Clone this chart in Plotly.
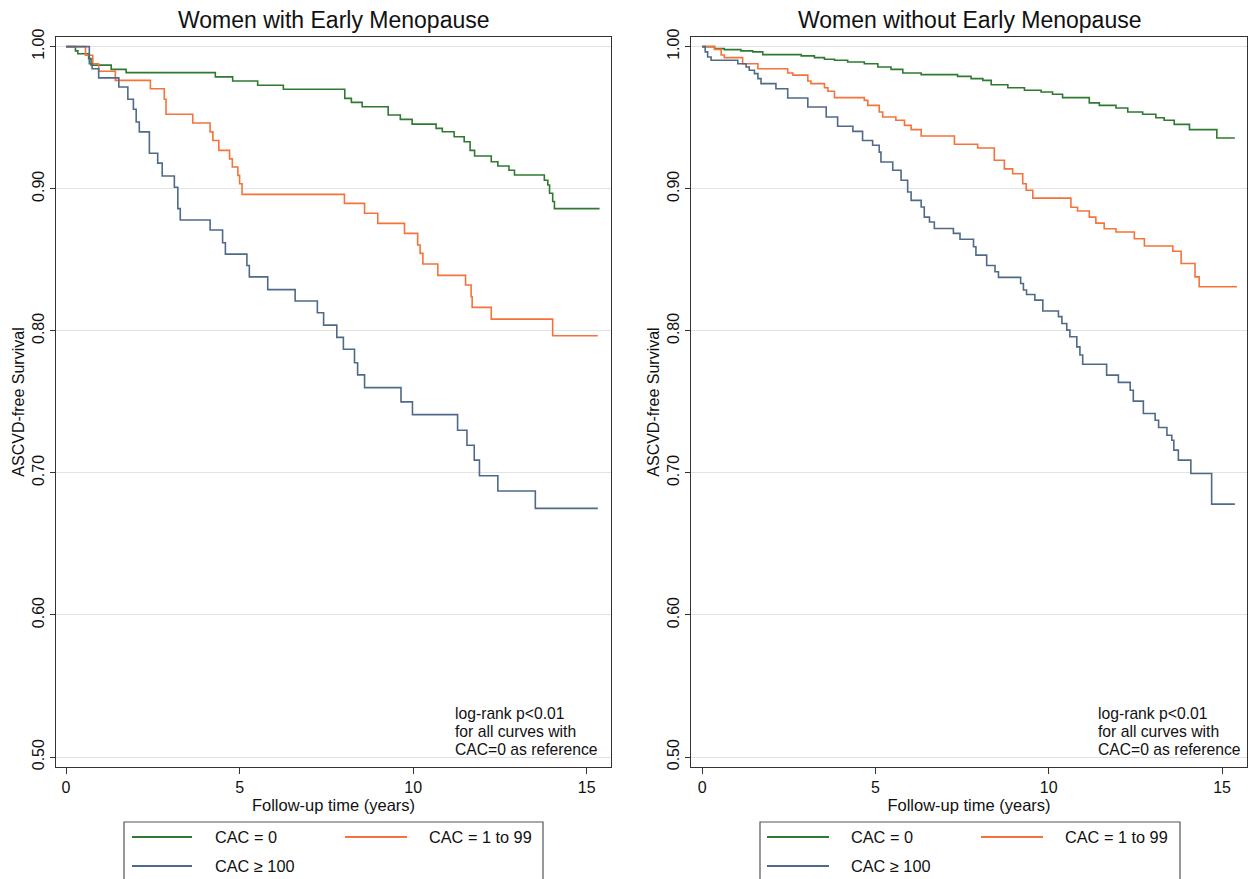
import plotly.graph_objects as go

# ---------------- data ----------------
panel_titles = ["Women with Early Menopause", "Women without Early Menopause"]
series_names = ["CAC = 0", "CAC = 1 to 99", "CAC \u2265 100"]
series_colors = ["#2f7a31", "#f5733a", "#4f6a88"]

# Left panel: women with early menopause
left_cac0_t = [0, 0.27, 0.34, 0.65, 0.72, 1.30, 1.73, 4.30, 4.80, 5.52, 6.26, 8.03, 8.22, 8.53, 9.28, 9.63,
               9.97, 10.66, 10.84, 11.18, 11.47, 11.64, 11.77, 12.25, 12.44, 12.76, 12.92, 13.78, 13.88,
               13.93, 14.02, 14.07, 15.37]
left_cac0_s = [1.0, 0.997, 0.995, 0.9916, 0.987, 0.984, 0.9817, 0.9787, 0.9758, 0.9728, 0.970, 0.9636,
               0.9608, 0.9577, 0.9519, 0.9488, 0.9455, 0.9425, 0.9401, 0.9366, 0.9331, 0.927, 0.923,
               0.919, 0.916, 0.913, 0.9097, 0.906, 0.9026, 0.8968, 0.891, 0.886, 0.886]

left_cac1_t = [0, 0.56, 0.77, 0.94, 1.42, 2.43, 2.83, 2.88, 3.65, 4.15, 4.23, 4.40, 4.71, 4.79, 4.95,
               5.00, 5.07, 8.02, 8.60, 8.98, 9.75, 10.13, 10.20, 10.28, 10.71, 11.51, 11.67, 11.70,
               12.25, 14.02, 15.32]
left_cac1_s = [1.0, 0.994, 0.988, 0.9827, 0.9763, 0.9704, 0.963, 0.9524, 0.9463, 0.940, 0.934, 0.927,
               0.921, 0.9153, 0.9094, 0.9035, 0.896, 0.8897, 0.8827, 0.8756, 0.8686, 0.8604, 0.8545,
               0.847, 0.839, 0.8322, 0.824, 0.8165, 0.8082, 0.7965, 0.7965]

left_cac100_t = [0, 0.67, 0.75, 0.94, 1.52, 1.78, 1.94, 2.02, 2.11, 2.40, 2.64, 2.77, 3.12, 3.22, 3.29,
                 4.15, 4.51, 4.59, 5.21, 5.28, 5.81, 6.60, 7.24, 7.42, 7.80, 7.99, 8.31, 8.40, 8.60,
                 9.65, 9.98, 11.28, 11.55, 11.76, 11.91, 12.44, 13.52, 15.32]
left_cac100_s = [1.0, 0.988, 0.9845, 0.978, 0.9716, 0.963, 0.956, 0.947, 0.940, 0.925, 0.918, 0.909,
                 0.901, 0.886, 0.878, 0.871, 0.862, 0.854, 0.846, 0.838, 0.829, 0.821, 0.8127, 0.804,
                 0.7954, 0.787, 0.7775, 0.769, 0.760, 0.750, 0.741, 0.730, 0.7195, 0.709, 0.698,
                 0.6873, 0.675, 0.675]

# Right panel: women without early menopause
right_cac0_t = [0, 0.36, 0.64, 1.12, 1.46, 1.75, 2.86, 3.24, 3.53, 3.82, 4.20, 4.68, 5.07, 5.45, 5.79,
                6.32, 7.37, 7.76, 8.10, 8.34, 8.82, 9.30, 9.78, 10.11, 10.40, 11.17, 11.46, 11.94,
                12.28, 12.71, 13.09, 13.33, 13.62, 14.06, 14.85, 15.37]
right_cac0_s = [1.0, 0.9986, 0.9979, 0.997, 0.9963, 0.9944, 0.9935, 0.9923, 0.9911, 0.9904, 0.9892,
                0.988, 0.9857, 0.984, 0.9815, 0.9803, 0.9791, 0.9775, 0.9763, 0.9732, 0.9711, 0.9693,
                0.9681, 0.9665, 0.9641, 0.9604, 0.9587, 0.9568, 0.954, 0.9524, 0.950, 0.9482, 0.9453,
                0.9416, 0.9357, 0.9357]

right_cac1_t = [0, 0.36, 0.55, 0.64, 1.17, 1.61, 2.47, 2.62, 3.05, 3.14, 3.53, 3.63, 3.82, 4.68, 4.78,
                5.11, 5.21, 5.59, 5.84, 6.03, 6.32, 7.28, 7.95, 8.43, 8.72, 8.96, 9.25, 9.35, 9.54,
                10.64, 10.83, 11.17, 11.36, 11.60, 11.94, 12.47, 12.76, 13.58, 13.82, 14.22, 14.34, 15.43]
right_cac1_s = [1.0, 0.9981, 0.9941, 0.9923, 0.988, 0.9845, 0.9815, 0.980, 0.9758, 0.974, 0.9711,
                0.9686, 0.9641, 0.9622, 0.9587, 0.954, 0.9505, 0.9482, 0.9446, 0.9416, 0.9371, 0.9313,
                0.9287, 0.920, 0.914, 0.9106, 0.9035, 0.8989, 0.8934, 0.887, 0.8843, 0.880, 0.8758,
                0.8718, 0.8695, 0.8648, 0.8597, 0.856, 0.8474, 0.838, 0.831, 0.831]

right_cac100_t = [0, 0.09, 0.16, 0.26, 1.03, 1.27, 1.36, 1.51, 1.61, 1.70, 2.13, 2.47, 3.05, 3.58, 3.91,
                  4.35, 4.63, 4.92, 5.11, 5.16, 5.50, 5.74, 5.93, 6.03, 6.32, 6.41, 6.56, 6.70, 7.25,
                  7.44, 7.83, 7.90, 8.21, 8.45, 8.55, 9.19, 9.27, 9.36, 9.60, 9.83, 10.28, 10.38, 10.52,
                  10.61, 10.81, 10.90, 10.98, 11.67, 12.01, 12.35, 12.44, 12.73, 13.07, 13.17, 13.41,
                  13.55, 13.61, 13.74, 14.10, 14.70, 15.37]
right_cac100_s = [1.0, 0.9963, 0.9927, 0.9904, 0.988, 0.9857, 0.9834, 0.981, 0.9775, 0.974, 0.9704,
                  0.9639, 0.9575, 0.9505, 0.944, 0.9404, 0.934, 0.9306, 0.9258, 0.9188, 0.913, 0.906,
                  0.8977, 0.8918, 0.8871, 0.880, 0.8766, 0.872, 0.8686, 0.8644, 0.8592, 0.8533, 0.846,
                  0.8416, 0.8376, 0.8333, 0.8287, 0.8256, 0.8216, 0.814, 0.810, 0.8052, 0.8005, 0.7958,
                  0.7887, 0.783, 0.7765, 0.7688, 0.7637, 0.7582, 0.7505, 0.7418, 0.7371, 0.732, 0.7265,
                  0.723, 0.716, 0.709, 0.6996, 0.678, 0.678]

y_ticks = [0.5, 0.6, 0.7, 0.8, 0.9, 1.0]
y_ticklabels = ["0.50", "0.60", "0.70", "0.80", "0.90", "1.00"]
x_ticks = [0, 5, 10, 15]
x_ticklabels = ["0", "5", "10", "15"]
y_title = "ASCVD-free Survival"
x_title = "Follow-up time (years)"
note_lines = ["log-rank p<0.01", "for all curves with", "CAC=0 as reference"]

# ---------------- layout helpers ----------------
W, H = 1250, 879
FONT = "Liberation Sans, Arial, sans-serif"


def px(x):
    return x / W


def py(y):
    return 1 - y / H


panels = [
    dict(xdom=(px(56), px(611)), xr=[-0.29, 15.7], note_x=453, leg=(124, 543, 132, 192, 213, 345, 407, 427),
         series=[(left_cac0_t, left_cac0_s), (left_cac1_t, left_cac1_s), (left_cac100_t, left_cac100_s)]),
    dict(xdom=(px(691), px(1247)), xr=[-0.32, 15.72], note_x=1096, leg=(760, 1180, 767, 829, 849, 981, 1043, 1063),
         series=[(right_cac0_t, right_cac0_s), (right_cac1_t, right_cac1_s), (right_cac100_t, right_cac100_s)]),
]
ydom = (py(767), py(37))
yr = [0.493, 1.0068]

fig = go.Figure()
shapes = []
annotations = []

for i, p in enumerate(panels):
    xa = "x" if i == 0 else "x2"
    ya = "y" if i == 0 else "y2"
    for (t, s), name, col in zip(p["series"], series_names, series_colors):
        fig.add_trace(go.Scatter(x=t, y=s, mode="lines", line=dict(color=col, width=1.6, shape="hv"),
                                 name=name, showlegend=False, xaxis=xa, yaxis=ya,
                                 hovertemplate="%{x:.2f} y: %{y:.3f}<extra>" + name + "</extra>"))
    axis_common = dict(showline=True, linecolor="#333333", linewidth=1.2, mirror=True, ticks="outside",
                       tickcolor="#333333", tickfont=dict(size=16, color="#111", family=FONT),
                       zeroline=False, automargin=False)
    xkey = "xaxis" if i == 0 else "xaxis2"
    ykey = "yaxis" if i == 0 else "yaxis2"
    fig.update_layout(**{
        xkey: dict(domain=list(p["xdom"]), range=p["xr"], anchor=ya, tickvals=x_ticks, ticktext=x_ticklabels,
                   ticklen=6, showgrid=False,
                   title=dict(text=x_title, font=dict(size=16.5, color="#111", family=FONT), standoff=2),
                   **axis_common),
        ykey: dict(domain=list(ydom), range=yr, anchor=xa, tickvals=y_ticks, ticktext=y_ticklabels,
                   tickangle=-90, ticklen=5, showgrid=True, gridcolor="#e3e3e3", gridwidth=1,
                   title=dict(text=y_title, font=dict(size=16, color="#111", family=FONT), standoff=0),
                   **axis_common),
    })
    # panel title
    cx = (p["xdom"][0] + p["xdom"][1]) / 2
    annotations.append(dict(text=panel_titles[i], x=cx, y=py(20), xref="paper", yref="paper",
                            showarrow=False, xanchor="center", yanchor="middle",
                            font=dict(size=23, color="#111", family=FONT)))
    # note
    for k, line in enumerate(note_lines):
        annotations.append(dict(text=line, x=px(p["note_x"]), y=py(713 + 18 * k), xref="paper", yref="paper",
                                showarrow=False, xanchor="left", yanchor="middle",
                                font=dict(size=15.7, color="#111", family=FONT)))
    # legend box (drawn)
    bx0, bx1, l1a, l1b, t1, l2a, l2b, t2 = p["leg"]
    shapes.append(dict(type="rect", xref="paper", yref="paper", x0=px(bx0), x1=px(bx1), y0=py(890), y1=py(822),
                       line=dict(color="#555555", width=1.2), fillcolor="rgba(0,0,0,0)"))
    entries = [(l1a, l1b, t1, 837), (l2a, l2b, t2, 837), (l1a, l1b, t1, 866)]
    for (la, lb, tx, yy), name, col in zip(entries, series_names, series_colors):
        shapes.append(dict(type="line", xref="paper", yref="paper", x0=px(la), x1=px(lb), y0=py(yy), y1=py(yy),
                           line=dict(color=col, width=1.8)))
        annotations.append(dict(text=name, x=px(tx), y=py(yy), xref="paper", yref="paper", showarrow=False,
                                xanchor="left", yanchor="middle", font=dict(size=16.3, color="#111", family=FONT)))

fig.update_layout(width=W, height=H, margin=dict(l=0, r=0, t=0, b=0), template="none",
                  paper_bgcolor="white", plot_bgcolor="white", font=dict(family=FONT, color="#111"),
                  shapes=shapes, annotations=annotations, showlegend=False)

fig.write_html("out.html", config={"displayModeBar": False},
               post_script="document.body.style.margin='0';document.body.style.overflow='hidden';")
